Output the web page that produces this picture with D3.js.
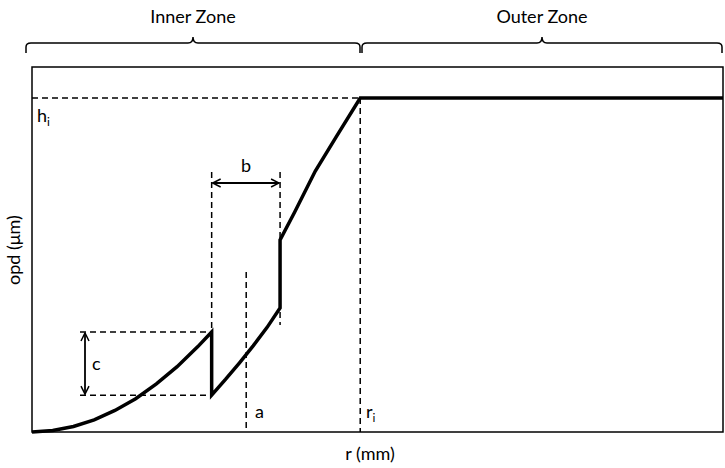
<!DOCTYPE html><html><head><meta charset="utf-8"><script src="https://cdn.jsdelivr.net/npm/d3@7"></script>
<style>body{margin:0;background:#fff}text{font-family:Lato,"Open Sans",sans-serif}</style></head><body>
<svg id="c" width="725" height="468"></svg>
<script>
const seg1R=[0,3,6,9,12,15,18,21,24,26];
const seg1V=[0,0.4,1.5,3.3,5.9,9.1,13.2,17.9,23.4,27.4];
const seg2R=[26,28,30,32,34,35.9];
const seg2V=[10.1,14.4,18.9,23.6,28.6,34];
const seg3R=[35.9,38,41,44,47.5];
const seg3V=[52.6,60.2,71.5,80.8,91.5];
const seg4R=[47.5,100];
const seg4V=[91.5,91.5];
const marks={a:31,b0:26,b1:35.9,ri:47.5};

const svg=d3.select("#c");
const x=d3.scaleLinear().domain([0,100]).range([32,723]);
const y=d3.scaleLinear().domain([0,100]).range([432,67]);
svg.append("rect").attr("x",32).attr("y",67).attr("width",691).attr("height",365).attr("fill","none").attr("stroke","#000").attr("stroke-width",1.5);
const pts=[];
seg1R.forEach((r,i)=>pts.push([r,seg1V[i]]));
seg2R.forEach((r,i)=>pts.push([r,seg2V[i]]));
seg3R.forEach((r,i)=>pts.push([r,seg3V[i]]));
pts.push([seg4R[1],seg4V[1]]);
svg.append("path").attr("d",d3.line().x(d=>x(d[0])).y(d=>y(d[1]))(pts)).attr("fill","none").attr("stroke","#000").attr("stroke-width",3.5).attr("stroke-linejoin","miter");
const dash=(x1,y1,x2,y2)=>svg.append("line").attr("x1",x1).attr("y1",y1).attr("x2",x2).attr("y2",y2).attr("stroke","#000").attr("stroke-width",1.5).attr("stroke-dasharray","6,4");
const hi=y(seg3V[seg3V.length-1]);
dash(x(0),hi,x(marks.ri),hi);
dash(x(marks.ri),hi,x(marks.ri),432);
dash(x(marks.b0),172,x(marks.b0),y(seg1V[9]));
dash(x(marks.b1),172,x(marks.b1),325);
dash(80,y(seg1V[9]),x(marks.b0),y(seg1V[9]));
dash(80,y(seg2V[0]),x(marks.b0),y(seg2V[0]));
dash(x(marks.a),272,x(marks.a),432);
const defs=svg.append("defs");
defs.append("marker").attr("id","ar").attr("viewBox","0 0 10 10").attr("refX",9).attr("refY",5).attr("markerWidth",10).attr("markerHeight",10).attr("markerUnits","userSpaceOnUse").attr("orient","auto-start-reverse")
 .append("path").attr("d","M1,1 L9,5 L1,9").attr("fill","none").attr("stroke","#000").attr("stroke-width",1.5);
svg.append("line").attr("x1",x(marks.b0)+1).attr("y1",183).attr("x2",x(marks.b1)-1).attr("y2",183).attr("stroke","#000").attr("stroke-width",1.8).attr("marker-start","url(#ar)").attr("marker-end","url(#ar)");
svg.append("line").attr("x1",85).attr("y1",y(seg1V[9])+1).attr("x2",85).attr("y2",y(seg2V[0])-1).attr("stroke","#000").attr("stroke-width",1.8).attr("marker-start","url(#ar)").attr("marker-end","url(#ar)");
const t=(s,px,py,opt={})=>svg.append("text").attr("x",px).attr("y",py).attr("font-size",opt.fs||18).attr("text-anchor",opt.a||"start").text(s);
t("b",246,172,{a:"middle"});
t("c",92,370);
t("a",255,418);
const ri=svg.append("text").attr("x",366).attr("y",418).attr("font-size",18).text("r");
ri.append("tspan").attr("font-size",12).attr("dy",4).text("i");
const h=svg.append("text").attr("x",37).attr("y",122).attr("font-size",18).text("h");
h.append("tspan").attr("font-size",12).attr("dy",4).text("i");
t("r (mm)",370,460,{a:"middle"});
svg.append("text").attr("transform","translate(20,250) rotate(-90)").attr("text-anchor","middle").attr("font-size",18).text("opd (μm)");
t("Inner Zone",193,23,{a:"middle"});
t("Outer Zone",542,23,{a:"middle"});
function brace(x1,x2,yb){const m=(x1+x2)/2;
 const d=`M${x1},${yb+10} L${x1},${yb+4} Q${x1},${yb} ${x1+5},${yb} L${m-5},${yb} Q${m},${yb} ${m},${yb-6} Q${m},${yb} ${m+5},${yb} L${x2-5},${yb} Q${x2},${yb} ${x2},${yb+4} L${x2},${yb+10}`;
 svg.append("path").attr("d",d).attr("fill","none").attr("stroke","#000").attr("stroke-width",1.5);}
brace(26,360,43);brace(362,722,43);
</script></body></html>
